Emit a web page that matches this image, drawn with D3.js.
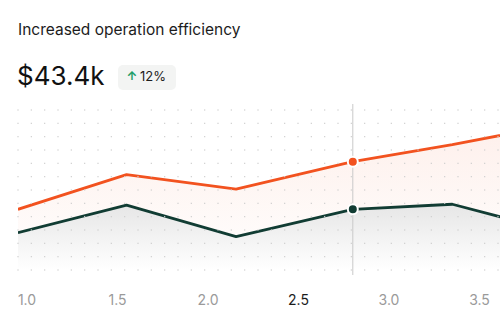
<!DOCTYPE html>
<html>
<head>
<meta charset="utf-8">
<script src="https://cdn.jsdelivr.net/npm/d3@7"></script>
<style>
  body { margin: 0; background: #fff; font-family: Inter, "Noto Sans", sans-serif; }
</style>
</head>
<body>
<div id="chart"></div>
<script>
// values
const xValues = [0.95, 1.55, 2.155, 2.8, 3.35, 3.9];
const seriesA = [37.9, 59.6, 50.6, 67.7, 78.3, 90.4];   // orange
const seriesB = [23.3, 40.6, 20.9, 37.9, 41.1, 24.7];   // dark green
const tickValues = [1.0, 1.5, 2.0, 2.5, 3.0, 3.5];
const activeTick = 2.5;
const hoverX = 2.8;

const W = 500, H = 323;
const svg = d3.select("#chart").append("svg")
    .attr("width", W)
    .attr("height", H);

const x = d3.scaleLinear().domain([1, 3.5]).range([27, 479.5]);
const y = d3.scaleLinear().domain([0, 100]).range([270, 110]);

const orange = "#f2521f", dark = "#113c33";

// gradients
const defs = svg.append("defs");
const gA = defs.append("linearGradient").attr("id", "gA")
    .attr("x1", 0).attr("y1", 0).attr("x2", 0).attr("y2", 1);
gA.append("stop").attr("offset", "0%").attr("stop-color", orange).attr("stop-opacity", 0.09);
gA.append("stop").attr("offset", "100%").attr("stop-color", orange).attr("stop-opacity", 0.0);
const gB = defs.append("linearGradient").attr("id", "gB")
    .attr("x1", 0).attr("y1", 0).attr("x2", 0).attr("y2", 1);
gB.append("stop").attr("offset", "0%").attr("stop-color", "#e6e6e6");
gB.append("stop").attr("offset", "100%").attr("stop-color", "#ffffff");
defs.append("clipPath").attr("id", "clip")
  .append("rect").attr("x", 18).attr("y", 100).attr("width", W - 18).attr("height", 180);

// header
svg.append("text")
    .attr("x", 18).attr("y", 35)
    .attr("font-size", 15.5).attr("fill", "#1c1c1c")
    .text("Increased operation efficiency");
svg.append("text")
    .attr("x", 17).attr("y", 85)
    .attr("font-size", 26).attr("fill", "#111")
    .text("$43.4k");
svg.append("rect")
    .attr("x", 118).attr("y", 65).attr("width", 58).attr("height", 25)
    .attr("rx", 5).attr("fill", "#f3f4f3");
svg.append("text")
    .attr("x", 132).attr("y", 80).attr("text-anchor", "middle")
    .attr("font-size", 12).attr("font-weight", 700).attr("fill", "#1f9d68")
    .text("↑");
svg.append("text")
    .attr("x", 140).attr("y", 80.5)
    .attr("font-size", 13).attr("fill", "#1c1c1c")
    .text("12%");

const plot = svg.append("g").attr("clip-path", "url(#clip)");

const area = vals => d3.area()
    .x((d, i) => x(xValues[i]))
    .y0(y(0))
    .y1(d => y(d))(vals);
const line = vals => d3.line()
    .x((d, i) => x(xValues[i]))
    .y(d => y(d))(vals);

plot.append("path").attr("d", area(seriesA)).attr("fill", "url(#gA)");
plot.append("path").attr("d", area(seriesB)).attr("fill", "url(#gB)");

// dot grid
const cols = d3.range(18, W, 40 / 3);
const rows = d3.range(0, 101, 100 / 12);
const grid = svg.append("g");
rows.forEach(r => {
  grid.selectAll(null).data(cols).enter().append("rect")
    .attr("x", c => c - 0.6).attr("y", y(r) - 0.6)
    .attr("width", 1.2).attr("height", 1.2)
    .attr("fill", "#cdcdcd");
});

plot.append("path").attr("d", line(seriesA))
    .attr("fill", "none").attr("stroke", orange).attr("stroke-width", 2.8)
    .attr("stroke-linejoin", "round");
plot.append("path").attr("d", line(seriesB))
    .attr("fill", "none").attr("stroke", dark).attr("stroke-width", 2.8)
    .attr("stroke-linejoin", "round");

// hover marker
const hi = xValues.indexOf(hoverX);
svg.append("line")
    .attr("x1", x(hoverX)).attr("x2", x(hoverX))
    .attr("y1", 104).attr("y2", 275)
    .attr("stroke", "#c9c9c9").attr("stroke-width", 1);
[[seriesA, orange], [seriesB, dark]].forEach(([s, c]) => {
  svg.append("circle")
    .attr("cx", x(hoverX)).attr("cy", y(s[hi])).attr("r", 5)
    .attr("fill", c).attr("stroke", "#fff").attr("stroke-width", 2);
});

// x axis labels
svg.append("g").selectAll("text").data(tickValues).enter().append("text")
    .attr("x", d => x(d)).attr("y", 305)
    .attr("text-anchor", "middle")
    .attr("font-size", 14)
    .attr("fill", d => d === activeTick ? "#1c1c1c" : "#9a9a9a")
    .text(d => d.toFixed(1));
</script>
</body>
</html>
